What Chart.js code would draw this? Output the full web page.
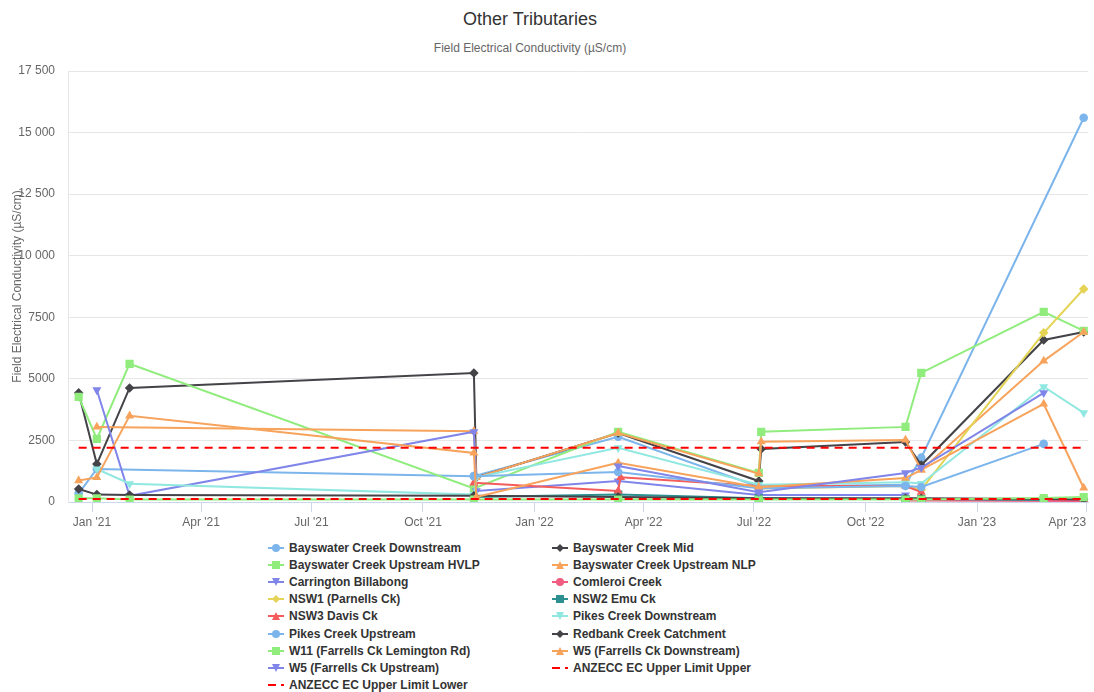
<!DOCTYPE html>
<html>
<head>
<meta charset="utf-8">
<title>Other Tributaries</title>
<script src="https://cdn.jsdelivr.net/npm/chart.js@4"></script>
<style>
  body { margin: 0; background: #fff; font-family: "Liberation Sans", Arial, sans-serif; }
  #wrap { position: relative; width: 1094px; height: 692px; overflow: hidden; background: #fff; }
  #chart { position: absolute; left: 0; top: 0; }
  .heading { position: absolute; left: 0; width: 1060px; text-align: center; white-space: nowrap; }
  #title { top: 8px; font-size: 18px; line-height: 22px; color: #333; }
  #subtitle { top: 41px; font-size: 12px; line-height: 14px; color: #666; }
  .legend-item { position: absolute; height: 17px; display: flex; align-items: center;
    font-size: 12px; font-weight: bold; color: #333; white-space: nowrap; }
  .legend-item svg { margin-right: 5px; }
</style>
</head>
<body>
<div id="wrap">
  <div id="title" class="heading">Other Tributaries</div>
  <div id="subtitle" class="heading">Field Electrical Conductivity (µS/cm)</div>
  <canvas id="chart" width="1094" height="540"></canvas>
  <div id="legend"></div>
</div>
<script>
// Sampling dates shared by all sites (value arrays below line up with these)
const sampleDates = [
  '2020-12-21', '2021-01-05', '2021-02-01', '2021-11-12', '2021-11-14',
  '2022-03-11', '2022-03-13', '2022-07-05', '2022-07-07', '2022-11-03',
  '2022-11-16', '2023-02-25', '2023-03-30',
];

// Quarter ticks on the time axis
const tickDates = [
  '2021-01-01', '2021-04-01', '2021-07-01', '2021-10-01', '2022-01-01',
  '2022-04-01', '2022-07-01', '2022-10-01', '2023-01-01', '2023-04-01',
];
const tickLabels = [
  "Jan '21", "Apr '21", "Jul '21", "Oct '21", "Jan '22",
  "Apr '22", "Jul '22", "Oct '22", "Jan '23", "Apr '23",
];

// Field EC (µS/cm) per site, null = not sampled
const bayswaterDownstream = [350, 1340, null, 1050, null, 2650, null, 620, null, 700, 1800, null, 15600];
const bayswaterMid        = [4430, 1540, 4630, 5240, 1000, 2800, null, 850, 2150, 2440, 1500, 6580, 6900];
const bayswaterHVLP       = [4270, 2560, 5610, 550, null, 2850, null, 1180, 2850, 3050, 5240, 7720, 6950];
const bayswaterNLP        = [null, 3050, null, 2870, 1000, 2800, null, 1150, 2450, 2520, 1300, 5730, 6900];
const carringtonBillabong = [null, 4550, 250, 2850, 450, 850, null, 280, null, 280, null, null, null];
const comleroiCreek       = [null, null, null, null, null, null, null, null, null, 60, 60, null, 40];
const nsw1Parnells        = [null, null, null, null, null, null, null, 550, null, 650, 500, 6870, 8650];
const nsw2Emu             = [null, null, null, 200, null, 300, null, 150, null, 120, 120, 80, null];
const nsw3Davis           = [null, null, null, 780, null, 450, 1000, 650, null, 650, 400, null, null];
const pikesDownstream     = [null, 1340, 740, 300, 1000, 2200, null, 700, null, 800, 750, 4680, 3620];
const pikesUpstream       = [null, null, null, 1050, null, 1220, null, 560, null, 650, 610, 2360, null];
const redbankCatchment    = [530, 300, 280, 250, null, 200, null, 150, null, 150, 150, 120, 100];
const w11Lemington        = [150, 150, 100, 100, null, 100, null, 100, null, 100, 100, 160, 200];
const w5Downstream        = [870, 1000, 3500, 1990, 200, 1590, null, 600, null, 970, 1300, 3980, 570];
const w5Upstream          = [null, null, null, null, null, 1460, null, 400, null, 1180, 1400, 4430, null];

// Guideline limits (µS/cm)
const anzeccUpper = 2200;
const anzeccLower = 120;

const seriesNames = [
  'Bayswater Creek Downstream', 'Bayswater Creek Mid', 'Bayswater Creek Upstream HVLP',
  'Bayswater Creek Upstream NLP', 'Carrington Billabong', 'Comleroi Creek',
  'NSW1 (Parnells Ck)', 'NSW2 Emu Ck', 'NSW3 Davis Ck', 'Pikes Creek Downstream',
  'Pikes Creek Upstream', 'Redbank Creek Catchment', 'W11 (Farrells Ck Lemington Rd)',
  'W5 (Farrells Ck Downstream)', 'W5 (Farrells Ck Upstream)',
];
const seriesValues = [
  bayswaterDownstream, bayswaterMid, bayswaterHVLP, bayswaterNLP, carringtonBillabong,
  comleroiCreek, nsw1Parnells, nsw2Emu, nsw3Davis, pikesDownstream, pikesUpstream,
  redbankCatchment, w11Lemington, w5Downstream, w5Upstream,
];

// Styling (Highcharts-like palette + marker cycle)
const palette = ['#7cb5ec', '#434348', '#90ed7d', '#f7a35c', '#8085e9',
  '#f15c80', '#e4d354', '#2b908f', '#f45b5b', '#91e8e1'];
const markerCycle = ['circle', 'diamond', 'square', 'triangle', 'triangle-down'];
const markerStyles = {
  'circle':        { pointStyle: 'circle',   radius: 4.3, rotation: 0 },
  'diamond':       { pointStyle: 'rectRot',  radius: 4.8, rotation: 0 },
  'square':        { pointStyle: 'rect',     radius: 5.8, rotation: 0 },
  'triangle':      { pointStyle: 'triangle', radius: 5.2, rotation: 0 },
  'triangle-down': { pointStyle: 'triangle', radius: 5.2, rotation: 180 },
};
const limitColor = '#ff0000';
const axisFont = { family: '"Liberation Sans", Arial, sans-serif', size: 12 };

const X_MIN = -19.8;
const X_MAX = 821.7;

const dayOf = (iso) => (Date.parse(iso) - Date.parse('2021-01-01')) / 86400000;
const sampleDays = sampleDates.map(dayOf);
const tickDays = tickDates.map(dayOf);

function toPoints(values) {
  return values
    .map((v, i) => (v === null ? null : { x: sampleDays[i], y: v }))
    .filter(p => p !== null);
}

function limitPoints(value) {
  return [
    { x: sampleDays[0], y: value },
    { x: sampleDays[sampleDays.length - 1], y: value },
  ];
}

const datasets = seriesValues.map((values, i) => {
  const color = palette[i % palette.length];
  const marker = markerCycle[i % markerCycle.length];
  const m = markerStyles[marker];
  return {
    label: seriesNames[i],
    data: toPoints(values),
    borderColor: color,
    backgroundColor: color,
    borderWidth: 2,
    pointStyle: m.pointStyle,
    pointRadius: m.radius,
    pointRotation: m.rotation,
    pointBorderWidth: 0,
    pointHoverRadius: m.radius,
    tension: 0,
    spanGaps: true,
    order: -i,
    marker,
  };
});

[['ANZECC EC Upper Limit Upper', anzeccUpper], ['ANZECC EC Upper Limit Lower', anzeccLower]]
  .forEach(([label, value], k) => {
    datasets.push({
      label,
      data: limitPoints(value),
      borderColor: limitColor,
      backgroundColor: limitColor,
      borderWidth: 2,
      borderDash: [8, 6],
      pointRadius: 0,
      tension: 0,
      order: -(seriesValues.length + k),
      marker: 'dash',
    });
  });

function formatEC(v) {
  if (v < 10000) return String(v);
  return String(v).replace(/\B(?=(\d{3})+(?!\d))/g, ' ');
}

const chart = new Chart(document.getElementById('chart'), {
  type: 'line',
  data: { datasets },
  options: {
    responsive: false,
    animation: false,
    layout: { padding: { top: 71, right: 2, bottom: 8, left: 0 } },
    plugins: {
      legend: { display: false },
      tooltip: { enabled: false },
    },
    scales: {
      x: {
        type: 'linear',
        min: X_MIN,
        max: X_MAX,
        // blank tick at the axis start so 'inner' alignment only pulls the last label in
        afterBuildTicks: (scale) => {
          scale.ticks = [{ value: X_MIN }].concat(tickDays.map(v => ({ value: v })));
        },
        afterFit: (scale) => { scale.height = 30; scale.paddingLeft = 0; scale.paddingRight = 0; },
        ticks: {
          autoSkip: false,
          maxRotation: 0,
          padding: 3,
          align: 'inner',
          color: '#666',
          font: axisFont,
          callback: (value) => {
            const i = tickDays.indexOf(value);
            return i < 0 ? '' : tickLabels[i];
          },
        },
        grid: {
          drawOnChartArea: false,
          drawTicks: true,
          tickLength: 10,
          color: '#ccd6eb',
          tickColor: (ctx) => (ctx.tick && ctx.tick.value === X_MIN ? 'rgba(0,0,0,0)' : '#ccd6eb'),
        },
        border: { color: '#ccd6eb' },
      },
      y: {
        min: 0,
        max: 17500,
        afterFit: (scale) => { scale.width = 68; },
        ticks: {
          stepSize: 2500,
          padding: 13,
          color: '#666',
          font: axisFont,
          callback: (value) => formatEC(value),
        },
        grid: { color: '#e6e6e6', drawTicks: false },
        border: { color: '#e6e6e6' },
        title: {
          display: true,
          text: 'Field Electrical Conductivity (µS/cm)',
          color: '#666',
          padding: { top: 10, bottom: 4 },
          font: axisFont,
        },
      },
    },
  },
});

/**
 * Small SVG symbol for a legend entry (line + marker)
 */
function legendSymbol(color, marker) {
  let shape = '';
  if (marker === 'circle') shape = `<circle cx="8" cy="6" r="4" fill="${color}"/>`;
  else if (marker === 'square') shape = `<rect x="4" y="2" width="8" height="8" fill="${color}"/>`;
  else if (marker === 'diamond') shape = `<polygon points="8,2 12,6 8,10 4,6" fill="${color}"/>`;
  else if (marker === 'triangle') shape = `<polygon points="8,2 12,10 4,10" fill="${color}"/>`;
  else if (marker === 'triangle-down') shape = `<polygon points="4,2 12,2 8,10" fill="${color}"/>`;
  const line = marker === 'dash'
    ? `<line x1="0" y1="6" x2="16" y2="6" stroke="${color}" stroke-width="2" stroke-dasharray="8,5"/>`
    : `<line x1="0" y1="6" x2="16" y2="6" stroke="${color}" stroke-width="2"/>`;
  return `<svg width="16" height="12" viewBox="0 0 16 12">${line}${shape}</svg>`;
}

// Two-column legend built from the chart's datasets
const legendEl = document.getElementById('legend');
const columnLeft = [268, 552];
chart.data.datasets.forEach((ds, i) => {
  const item = document.createElement('div');
  item.className = 'legend-item';
  item.style.left = columnLeft[i % 2] + 'px';
  item.style.top = (539.5 + Math.floor(i / 2) * 17.1) + 'px';
  item.innerHTML = legendSymbol(ds.borderColor, ds.marker) + '<span></span>';
  item.querySelector('span').textContent = ds.label;
  legendEl.appendChild(item);
});
</script>
</body>
</html>
